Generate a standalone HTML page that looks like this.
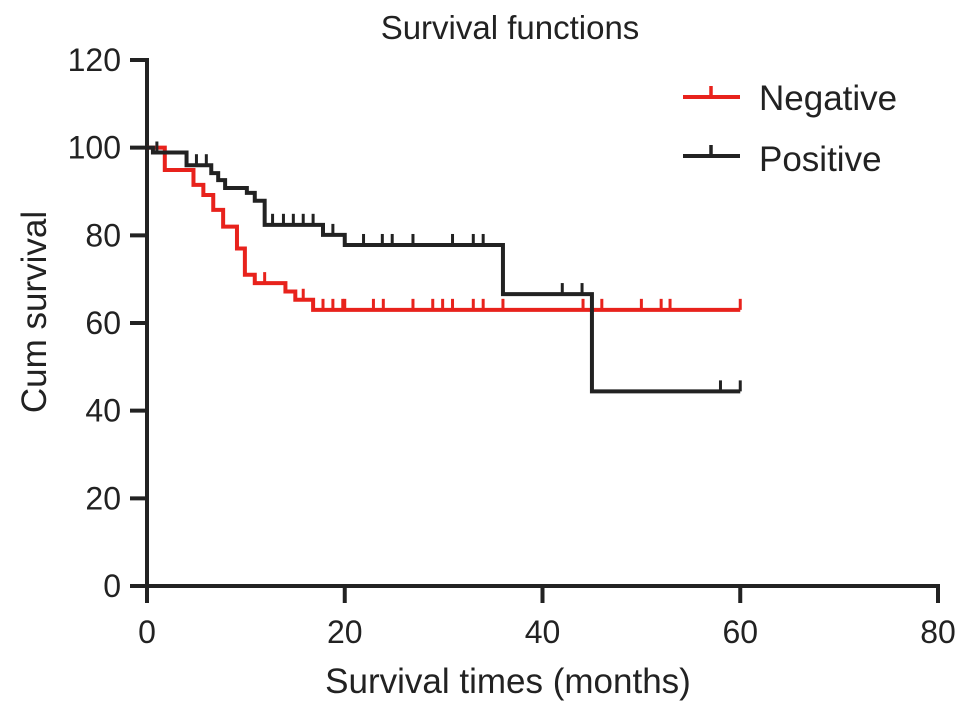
<!DOCTYPE html>
<html><head><meta charset="utf-8"><style>
body{margin:0;background:#fff;}
svg text{font-family:"Liberation Sans",Arial,sans-serif;fill:#222;}
</style></head><body>
<svg id="chart" width="969" height="714" viewBox="0 0 969 714" xmlns="http://www.w3.org/2000/svg">
<text x="510" y="39" font-size="33" text-anchor="middle">Survival functions</text>
<g id="axes"></g>
<g id="series"></g>
<g>
<g>
<line x1="683" y1="97" x2="740" y2="97" stroke="#e8221c" stroke-width="4"/>
<line x1="711" y1="97" x2="711" y2="86" stroke="#e8221c" stroke-width="3.5"/>
<text x="759" y="110" font-size="35">Negative</text></g>
<g>
<line x1="683" y1="156" x2="740" y2="156" stroke="#222" stroke-width="4"/>
<line x1="711" y1="156" x2="711" y2="145" stroke="#222" stroke-width="3.5"/>
<text x="759" y="171" font-size="35">Positive</text></g>
</g>
<text x="508" y="693" font-size="35" text-anchor="middle">Survival times (months)</text>
<text x="0" y="0" font-size="35" text-anchor="middle" transform="translate(46,312) rotate(-90)">Cum survival</text>
</svg>
<script>
const xTicks=[0,20,40,60,80];
const yTicks=[0,20,40,60,80,100,120];
const negTimes=[0,1.8,4.7,5.7,6.7,7.7,9.1,9.9,10.9,14.0,15.0,16.8,60];
const negSurv=[100,94.9,91.5,89.2,85.8,82.0,77.0,71.0,69.1,67.2,65.3,63.0,63.0];
const negCensor=[11.9,15.8,17.8,18.8,19.8,20,22.9,23.9,26.9,28.9,29.9,30.9,33,34,36,44.1,46,50,52,52.9,60];
const posTimes=[0,0.6,4,6.5,7.2,7.9,10.1,10.9,11.9,17.8,20,36,45,60];
const posSurv=[100,98.9,96.0,94.2,92.6,90.8,89.7,87.9,82.4,80.1,77.8,66.6,44.4,44.4];
const posCensor=[1,5,6,12.7,13.8,14.8,15.8,16.8,18.8,21.9,23.8,24.8,26.9,30.9,33,34,42,44,58,60];

const X=t=>147+t*(938-147)/80;
const Y=v=>586-v*(586-60)/120;
const NS="http://www.w3.org/2000/svg";
function mk(tag,attrs,parent){const e=document.createElementNS(NS,tag);for(const k in attrs)e.setAttribute(k,attrs[k]);parent.appendChild(e);return e;}
const axes=document.getElementById('axes'), series=document.getElementById('series');
let a=mk('line',{x1:147,y1:586,x2:940,y2:586,stroke:'#222','stroke-width':4},axes);


a=mk('line',{x1:147,y1:58,x2:147,y2:588,stroke:'#222','stroke-width':4},axes);


xTicks.forEach(t=>{
 const l=mk('line',{x1:X(t),y1:586,x2:X(t),y2:603,stroke:'#222','stroke-width':4},axes);
 
 
 const tx=mk('text',{x:X(t),y:643,'font-size':32,'text-anchor':'middle'},axes);tx.textContent=t;
 
 
});
yTicks.forEach(v=>{
 const l=mk('line',{x1:130,y1:Y(v),x2:147,y2:Y(v),stroke:'#222','stroke-width':4},axes);
 
 
 const tx=mk('text',{x:121,y:Y(v)+11,'font-size':32,'text-anchor':'end'},axes);tx.textContent=v;
 
 
});
function survAt(times,surv,t){let s=surv[0];for(let i=0;i<times.length;i++){if(times[i]<=t)s=surv[i];}return s;}
function draw(times,surv,cens,color,name){
 let d='M'+X(times[0])+','+Y(surv[0]);
 for(let i=1;i<times.length;i++){d+=' H'+X(times[i])+' V'+Y(surv[i]);}
 const p=mk('path',{d:d,fill:'none',stroke:color,'stroke-width':4},series);
 
 
 cens.forEach(t=>{
  const v=survAt(times,surv,t);
  const c=mk('line',{x1:X(t),y1:Y(v),x2:X(t),y2:Y(v)-11,stroke:color,'stroke-width':3},series);
  
  
 });
}
draw(negTimes,negSurv,negCensor,'#e8221c','negative');
draw(posTimes,posSurv,posCensor,'#222','positive');
</script>
</body></html>
